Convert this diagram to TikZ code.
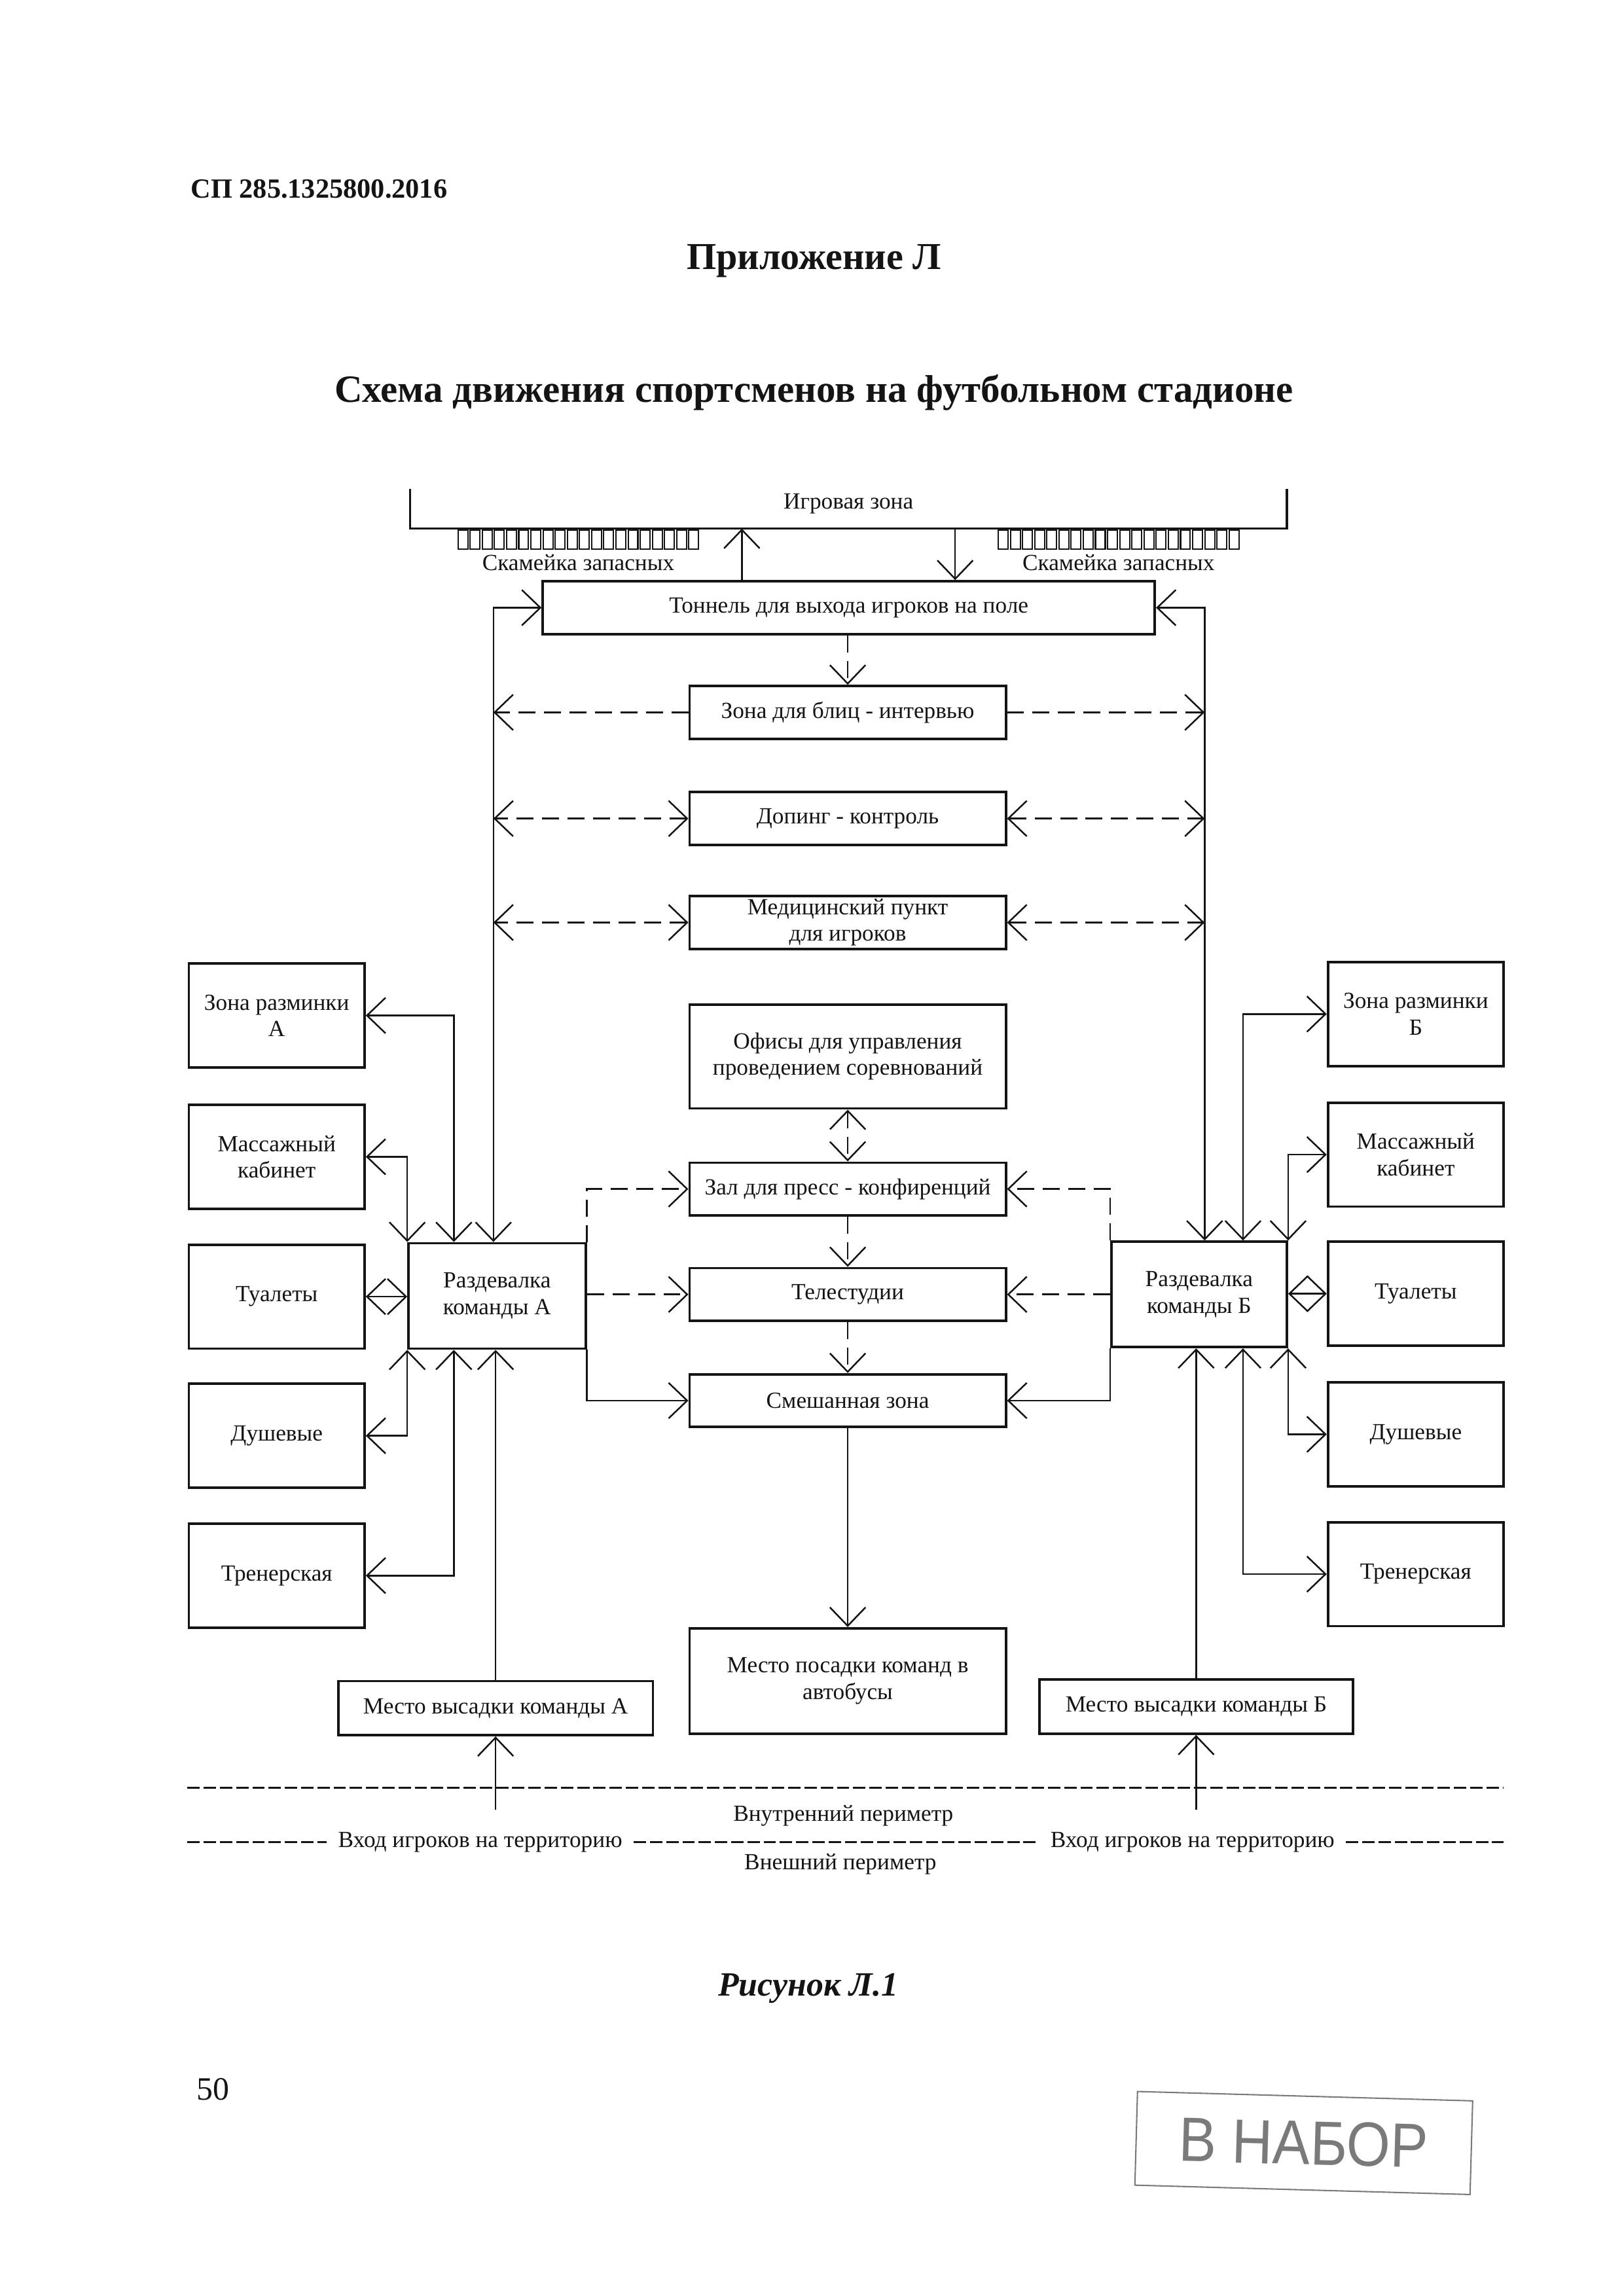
\documentclass[tikz,border=0pt]{standalone}
\usepackage{fontspec}
\setmainfont{Liberation Serif}
\newfontfamily\stampfont[FakeStretch=0.9]{Liberation Sans}
\usepackage{tikz}
\usetikzlibrary{arrows.meta, calc}
\definecolor{Ink}{HTML}{141414}
\definecolor{Stamp}{HTML}{7A7A7A}
\newlength{\pxu}
\setlength{\pxu}{0.18938mm}
\newcommand{\boxfont}{\fontsize{8.5}{9.7}\selectfont}
\tikzset{
  link/.style={->, line width=0.6pt, color=Ink},
  linkboth/.style={<->, line width=0.6pt, color=Ink},
  dlink/.style={link, dash pattern=on 2.2mm off 1.1mm},
  dlinkboth/.style={linkboth, dash pattern=on 2.2mm off 1.1mm},
  room/.style={draw=Ink, line width=0.9pt, align=center, font=\boxfont, text=Ink, inner sep=0.5pt},
  sideroom/.style={room, minimum width=120\pxu, minimum height=71\pxu},
  midroom/.style={room, minimum width=216\pxu, minimum height=36\pxu},
  txt/.style={font=\boxfont, text=Ink, inner sep=1pt},
  perim/.style={line width=0.6pt, dash pattern=on 1.6mm off 0.5mm, color=Ink},
}

\begin{document}
\begin{tikzpicture}[x=0.18936mm, y=-0.18941mm, >={Straight Barb[length=2.4mm, width=4.6mm]}]
  \useasboundingbox (0,0) rectangle (1109,1568);
  \node[anchor=west, inner sep=0pt, text=Ink, font=\bfseries\fontsize{10.2}{12}\selectfont] (code) at (130,129) {СП 285.1325800.2016};
  \node[text=Ink, font=\bfseries\fontsize{14}{16}\selectfont] (annex) at (556,178) {Приложение Л};
  \node[text=Ink, font=\bfseries\fontsize{14.2}{16}\selectfont] (title) at (556,268) {Схема движения спортсменов на футбольном стадионе};

  \draw[Ink, line width=0.8pt] (280,334) |- (879,361) -- (879,334);
  \node[txt] (field) at (579.5,344) {Игровая зона};
  \foreach \x in {312,681}{
    \foreach \i in {0,...,19}
      \draw[Ink, line width=0.5pt] (\x+\i*8.3+0.8,362) rectangle (\x+\i*8.3+7.5,375);
  }
  \node[txt] (benchA) at (395,384) {Скамейка запасных};
  \node[txt] (benchB) at (764,384) {Скамейка запасных};
  \coordinate (fieldin) at (506.7,361);
  \coordinate (fieldout) at (652.4,361);
  \coordinate (colA) at (337,0);
  \coordinate (colA2) at (310,0);
  \coordinate (colB) at (822.8,0);
  \coordinate (colB2) at (849,0);

  \node[room, minimum width=418\pxu, minimum height=36\pxu] (tunnel) at (579.75,415) {Тоннель для выхода игроков на поле};
  \node[midroom] (blitz) at (579,486.5) {Зона для блиц - интервью};
  \node[midroom] (doping) at (579,559) {Допинг - контроль};
  \node[midroom] (medic) at (579,630) {Медицинский пункт\\для игроков};
  \node[midroom, minimum height=71\pxu] (office) at (579,721.5) {Офисы для управления\\проведением соревнований};
  \node[midroom] (press) at (579,812) {Зал для пресс - конфиренций};
  \node[midroom] (studio) at (579,884) {Телестудии};
  \node[midroom] (mixed) at (579,956.5) {Смешанная зона};
  \node[midroom, minimum height=72\pxu] (bus) at (579,1148) {Место посадки команд в\\автобусы};

  \node[sideroom] (warmA) at (189,693.5) {Зона разминки\\А};
  \node[sideroom] (massA) at (189,790) {Массажный\\кабинет};
  \node[sideroom] (wcA) at (189,885.5) {Туалеты};
  \node[sideroom] (showerA) at (189,980.5) {Душевые};
  \node[sideroom] (coachA) at (189,1076) {Тренерская};
  \node[sideroom, minimum width=121\pxu, minimum height=72\pxu] (lockerA) at (339.5,885) {Раздевалка\\команды А};
  \node[room, minimum width=215\pxu, minimum height=37\pxu] (dropA) at (338.5,1166.5) {Место высадки команды А};

  \node[sideroom] (warmB) at (967,692.5) {Зона разминки\\Б};
  \node[sideroom] (massB) at (967,788.5) {Массажный\\кабинет};
  \node[sideroom] (wcB) at (967,883.5) {Туалеты};
  \node[sideroom] (showerB) at (967,979.5) {Душевые};
  \node[sideroom] (coachB) at (967,1075) {Тренерская};
  \node[sideroom, minimum height=72\pxu] (lockerB) at (819,884) {Раздевалка\\команды Б};
  \node[room, minimum width=214\pxu, minimum height=37\pxu] (dropB) at (817,1165.5) {Место высадки команды Б};

  \draw[link] (tunnel.north -| fieldin) -- (fieldin);
  \draw[link] (fieldout) -- (tunnel.north -| fieldout);
  \draw[dlink] (tunnel.south -| blitz.north) -- (blitz.north);
  \draw[linkboth] (tunnel.west) -| (lockerA.north -| colA);
  \draw[linkboth] (tunnel.east) -| (lockerB.north -| colB);
  \draw[dlink] (blitz.west) -- (blitz.west -| colA);
  \draw[dlink] (blitz.east) -- (blitz.east -| colB);
  \draw[dlinkboth] (doping.west) -- (doping.west -| colA);
  \draw[dlinkboth] (doping.east) -- (doping.east -| colB);
  \draw[dlinkboth] (medic.west) -- (medic.west -| colA);
  \draw[dlinkboth] (medic.east) -- (medic.east -| colB);

  \draw[dlinkboth] (office.south) -- (press.north);
  \draw[dlink] (press.south) -- (studio.north);
  \draw[dlink] (studio.south) -- (mixed.north);
  \draw[link] (mixed.south) -- (bus.north);

  \draw[linkboth] (warmA.east) -| (lockerA.north -| colA2);
  \draw[linkboth] (massA.east) -| (lockerA.north west);
  \draw[linkboth] (wcA.east) -- (wcA.east -| lockerA.west);
  \draw[linkboth] (showerA.east) -| (lockerA.south west);
  \draw[linkboth] (coachA.east) -| (lockerA.south -| colA2);
  \draw[link] (dropA.north) -- (dropA.north |- lockerA.south);
  \draw[dlink] (lockerA.north east) |- (press.west);
  \draw[dlink] (studio.west -| lockerA.east) -- (studio.west);
  \draw[link] (lockerA.south east) |- (mixed.west);

  \draw[linkboth] (warmB.west) -| (lockerB.north -| colB2);
  \draw[linkboth] (massB.west) -| (lockerB.north east);
  \draw[linkboth] (wcB.west) -- (wcB.west -| lockerB.east);
  \draw[linkboth] (showerB.west) -| (lockerB.south east);
  \draw[linkboth] (coachB.west) -| (lockerB.south -| colB2);
  \draw[link] (dropB.north) -- (dropB.north |- lockerB.south);
  \draw[dlink] (lockerB.north west) |- (press.east);
  \draw[dlink] (studio.east -| lockerB.west) -- (studio.east);
  \draw[link] (lockerB.south west) |- (mixed.east);

  \draw[perim] (128,1221) -- (1027,1221);
  \node[txt] (inner) at (576,1240) {Внутренний периметр};
  \node[txt, inner xsep=4pt] (gateA) at (328,1258) {Вход игроков на территорию};
  \node[txt, inner xsep=4pt] (gateB) at (814.5,1258) {Вход игроков на территорию};
  \node[txt] (outer) at (574,1273) {Внешний периметр};
  \draw[perim] (128,1258) -- (gateA.west);
  \draw[perim] (gateA.east) -- (gateB.west);
  \draw[perim] (gateB.east) -- (1027,1258);
  \coordinate (entryA) at (338.5,1236);
  \coordinate (entryB) at (817,1236);
  \draw[link] (entryA) -- (dropA.south);
  \draw[link] (entryB) -- (dropB.south);

  \node[text=Ink, font=\bfseries\itshape\fontsize{12.5}{14}\selectfont] (fig) at (552,1358) {Рисунок Л.1};
  \node[anchor=west, text=Ink, font=\fontsize{12}{14}\selectfont] (page) at (128,1427) {50};
  \node[draw=Stamp, line width=0.5pt, rotate=-1.6, minimum width=229\pxu, minimum height=64\pxu, text=Stamp, font=\stampfont\fontsize{23}{23}\selectfont] (stamp) at (890.5,1463.5) {В НАБОР};
\end{tikzpicture}
\end{document}
